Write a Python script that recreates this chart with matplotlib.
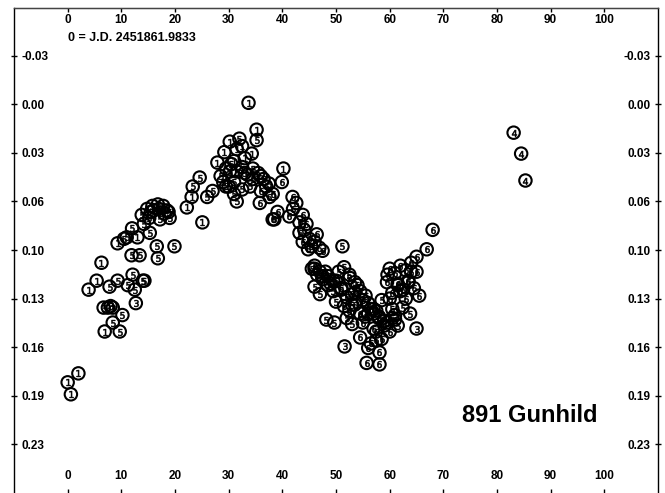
import matplotlib
matplotlib.use("Agg")
import matplotlib.pyplot as plt

# ---- Data --------------------------------------------------------------------
# time in hours from the J.D. zero point, relative magnitude; one list per night
S1_X = [0.0, 2.0, 0.6, 3.9, 5.4, 6.9, 6.3, 9.3, 13.0, 22.2, 23.1, 25.1, 27.9,
        29.2, 30.2, 33.7, 35.2, 34.3, 40.2, 16.0, 18.0,
        31.5, 32.5, 33.0, 31.0]
S1_Y = [0.186, 0.180, 0.194, 0.124, 0.118, 0.152, 0.106, 0.093, 0.089, 0.069,
        0.062, 0.079, 0.039, 0.032, 0.025, -0.001, 0.017, 0.033, 0.043, 0.071,
        0.073, 0.030, 0.028, 0.036, 0.038]

S3_X = [12.7, 6.7, 7.5, 8.4, 8.0, 51.6, 65.0, 57.0]
S3_Y = [0.133, 0.136, 0.136, 0.136, 0.135, 0.162, 0.150, 0.140]

S4_X = [83.1, 84.5, 85.3]
S4_Y = [0.019, 0.033, 0.051]

S5_X = [7.8, 9.3, 11.2, 12.1, 14.0, 12.5, 10.2, 8.4, 9.7, 14.3, 15.3, 16.6,
        19.9, 16.8, 11.0, 32.0, 30.2, 24.6, 23.3, 31.5, 35.2, 51.2, 62.4,
        15.5, 17.0, 18.5, 19.0, 33.0, 34.5, 36.0, 31.0, 29.5,
        48.0, 49.5, 51.0, 52.5, 54.0, 55.5, 50.0, 53.0, 56.0, 57.5, 59.0, 60.5,
        13.8, 14.8, 15.8, 16.8, 17.8, 18.8, 15.2, 17.2, 14.2,
        11.9, 13.4, 12.0, 10.5,
        28.5, 29.5, 30.5, 31.5, 32.5, 33.5, 34.5, 35.5, 36.5, 37.5, 30.0, 31.0,
        32.5, 34.0, 27.0, 26.0, 29.0,
        45.5, 46.5, 47.5, 48.5, 49.5, 50.5, 51.5, 52.5, 53.5, 54.5, 46.0, 47.0,
        52.0, 53.0, 55.5, 58.5, 60.5, 61.5, 48.2, 49.7, 63.8, 61.0]
S5_Y = [0.122, 0.118, 0.121, 0.114, 0.118, 0.124, 0.141, 0.146, 0.152, 0.118,
        0.086, 0.095, 0.095, 0.103, 0.089, 0.023, 0.045, 0.049, 0.055, 0.065,
        0.024, 0.095, 0.136,
        0.072, 0.070, 0.071, 0.076, 0.046, 0.050, 0.048, 0.052, 0.055,
        0.112, 0.118, 0.124, 0.116, 0.121, 0.128, 0.132, 0.134, 0.140, 0.138,
        0.145, 0.143,
        0.074, 0.070, 0.068, 0.067, 0.068, 0.072, 0.076, 0.077, 0.080,
        0.101, 0.101, 0.083, 0.090,
        0.048, 0.043, 0.040, 0.045, 0.042, 0.047, 0.043, 0.046, 0.050, 0.053,
        0.055, 0.060, 0.057, 0.055, 0.058, 0.062, 0.052,
        0.110, 0.114, 0.117, 0.121, 0.125, 0.112, 0.109, 0.114, 0.119, 0.125,
        0.122, 0.127,
        0.143, 0.147, 0.142, 0.131, 0.137, 0.148, 0.144, 0.146, 0.140, 0.141]

S6_X = [35.8, 38.2, 37.6, 39.9, 41.9, 42.6, 39.1, 38.5, 41.3, 43.8, 43.2, 44.1,
        43.2, 46.4, 43.8, 45.4, 46.9, 68.0, 66.9, 65.0, 59.6, 55.7, 58.1,
        46.0, 47.5, 49.0, 53.5, 55.0, 56.5, 58.0, 59.5, 61.0, 62.0, 63.5,
        64.0, 61.5, 60.0, 57.0, 54.5, 56.0,
        37.0, 36.0, 38.2, 42.0, 44.5, 45.0, 46.0, 44.8, 47.5,
        46.0, 47.0, 48.5, 50.0, 51.0, 52.0, 53.0,
        51.5, 52.5, 53.5, 54.5, 55.0, 56.0, 57.0, 58.0, 59.0, 60.0, 57.5, 58.5,
        56.5, 57.5, 58.1,
        60.0, 61.0, 62.0, 63.0, 64.0, 65.0, 61.5, 62.5, 63.5, 64.5, 60.5, 59.5,
        63.0, 65.5]
S6_Y = [0.066, 0.077, 0.062, 0.052, 0.062, 0.066, 0.072, 0.077, 0.075, 0.074,
        0.079, 0.084, 0.086, 0.087, 0.092, 0.095, 0.096, 0.084, 0.097, 0.102,
        0.114, 0.173, 0.174,
        0.110, 0.115, 0.120, 0.126, 0.131, 0.137, 0.142, 0.146, 0.144, 0.125,
        0.118, 0.112, 0.121, 0.130, 0.150, 0.156, 0.163,
        0.055, 0.058, 0.060, 0.070, 0.080, 0.090, 0.092, 0.097, 0.098,
        0.108, 0.112, 0.115, 0.118, 0.123, 0.129, 0.127,
        0.135, 0.138, 0.134, 0.140, 0.146, 0.133, 0.137, 0.143, 0.148, 0.152,
        0.152, 0.157, 0.160, 0.158, 0.166,
        0.110, 0.113, 0.108, 0.111, 0.106, 0.112, 0.120, 0.124, 0.119, 0.123,
        0.126, 0.119, 0.130, 0.128]

XTICKS = [0, 10, 20, 30, 40, 50, 60, 70, 80, 90, 100]
YTICKS = [-0.0325, 0.0, 0.0325, 0.065, 0.0975, 0.13, 0.1625, 0.195, 0.2275]
YLABELS = ["-0.03", "0.00", "0.03", "0.06", "0.10", "0.13", "0.16", "0.19", "0.23"]

ZERO_LABEL = "0 = J.D. 2451861.9833"
NAME = "891 Gunhild"

# ---- Figure ------------------------------------------------------------------
fig = plt.figure(figsize=(6.65, 4.93), dpi=100)
ax = fig.add_axes([14 / 665, -4 / 493, 644 / 665, 1 - 8 / 493 + 4 / 493])
ax.set_xlim(-10, 110)
ax.set_ylim(0.2627, -0.0644)

FONT = "Liberation Sans"
TICK_FS = 8.5


def session(xs, ys, digit):
    # circled session number, as in the original plot
    ax.scatter(xs, ys, s=80, facecolor="none", edgecolor="black",
               linewidth=1.5, zorder=3)
    ax.scatter(xs, ys, s=24, marker=f"${digit}$", color="black",
               linewidth=0.4, zorder=4)


session(S1_X, S1_Y, 1)
session(S3_X, S3_Y, 3)
session(S4_X, S4_Y, 4)
session(S5_X, S5_Y, 5)
session(S6_X, S6_Y, 6)

# ---- Axes: all tick labels sit inside the frame --------------------------------
for sp in ax.spines.values():
    sp.set_linewidth(1.0)
ax.spines["top"].set_color("#444444")

ax.set_xticks(XTICKS)
ax.tick_params(axis="x", direction="in", length=6, width=1.0, pad=-11,
               labelsize=TICK_FS)
for lab in ax.get_xticklabels():
    lab.set_va("bottom")
    lab.set_fontweight("bold")
    lab.set_family(FONT)

top = ax.secondary_xaxis("top")
top.set_xticks(XTICKS)
top.tick_params(direction="in", length=3, width=1.0, pad=-4.5,
                labelsize=TICK_FS)
for lab in top.get_xticklabels():
    lab.set_va("top")
    lab.set_fontweight("bold")
    lab.set_family(FONT)

ax.set_yticks(YTICKS, YLABELS)
ax.tick_params(axis="y", left=True, right=True, labelleft=True,
               labelright=True, direction="inout", length=5, width=1.0,
               pad=-8, labelsize=TICK_FS)
for lab in ax.get_yticklabels(which="both"):
    lab.set_fontweight("bold")
    lab.set_family(FONT)
for t in ax.yaxis.get_major_ticks():
    t.label1.set_ha("left")
    t.label2.set_ha("right")

ax.text(0, -0.044, ZERO_LABEL, ha="left", va="center", fontsize=9,
        fontweight="bold", family=FONT)
ax.text(98.7, 0.2085, NAME, ha="right", va="center", fontsize=17,
        fontweight="bold", family=FONT)

fig.savefig("out.png", dpi=100, facecolor="white")
